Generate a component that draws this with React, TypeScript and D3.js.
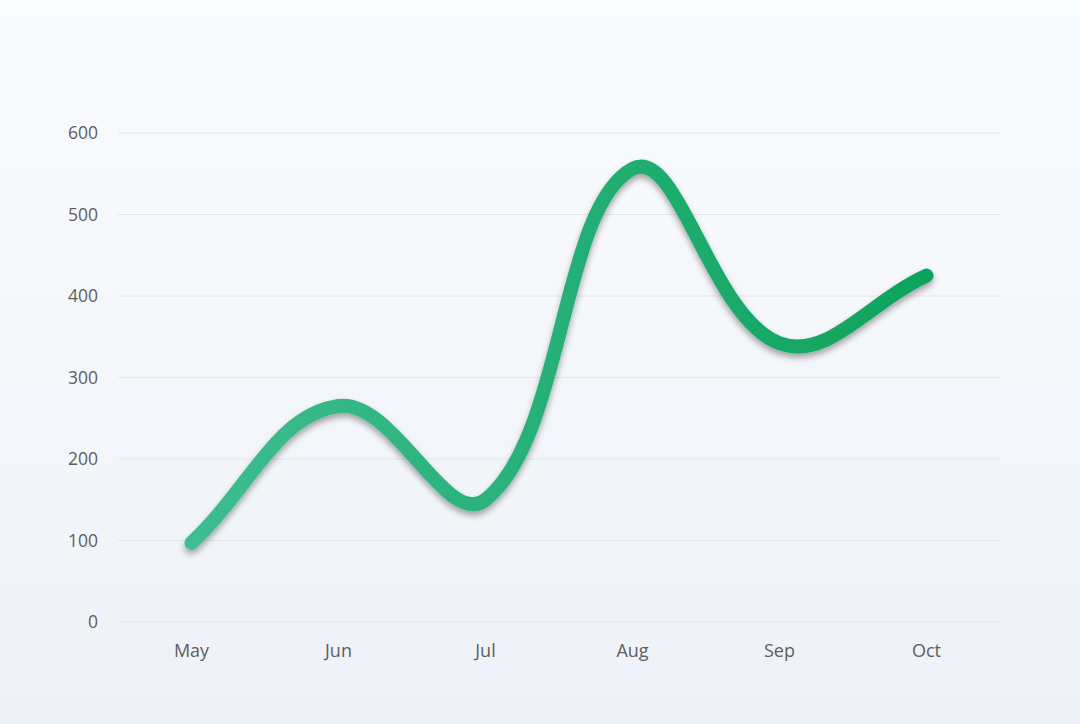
import React from 'react';
import * as d3 from 'd3';

const months = ['May', 'Jun', 'Jul', 'Aug', 'Sep', 'Oct'];
const values = [97, 265, 150, 556, 342, 425];
const yTicks = [0, 100, 200, 300, 400, 500, 600];

const W = 1080;
const H = 724;
const margin = { top: 133, right: 80, bottom: 102, left: 118 };
const SMOOTH = 0.4;

// distance-weighted bezier smoothing (like chart libs' "smooth" lines)
function smoothPath(pts: [number, number][], s: number) {
  const p = d3.path();
  const n = pts.length;
  const cpIn: [number, number][] = [];
  const cpOut: [number, number][] = [];
  for (let i = 0; i < n; i++) {
    const cur = pts[i];
    const prev = pts[Math.max(i - 1, 0)];
    const next = pts[Math.min(i + 1, n - 1)];
    const vx = next[0] - prev[0];
    const vy = next[1] - prev[1];
    const l0 = Math.hypot(cur[0] - prev[0], cur[1] - prev[1]);
    const l1 = Math.hypot(next[0] - cur[0], next[1] - cur[1]);
    const tot = l0 + l1 || 1;
    cpIn.push([cur[0] - vx * s * l0 / tot, cur[1] - vy * s * l0 / tot]);
    cpOut.push([cur[0] + vx * s * l1 / tot, cur[1] + vy * s * l1 / tot]);
  }
  p.moveTo(pts[0][0], pts[0][1]);
  for (let i = 0; i < n - 1; i++) {
    p.bezierCurveTo(cpOut[i][0], cpOut[i][1], cpIn[i + 1][0], cpIn[i + 1][1], pts[i + 1][0], pts[i + 1][1]);
  }
  return p.toString();
}

export default function App() {
  const x = d3.scalePoint<string>()
    .domain(months)
    .range([margin.left, W - margin.right])
    .padding(0.5);
  const y = d3.scaleLinear()
    .domain([0, 600])
    .range([H - margin.bottom, margin.top]);

  const pts = values.map((v, i) => [x(months[i]) as number, y(v)] as [number, number]);

  const font = '"Open Sans", "Noto Sans", sans-serif';

  return (
    <svg width={W} height={H} style={{ display: 'block', position: 'absolute', left: 0, top: 0 }}>
      <defs>
        <linearGradient id="bg" x1="0" y1="0" x2="0" y2="1">
          <stop offset="0" stopColor="#fafbfd" />
          <stop offset="1" stopColor="#eef2f8" />
        </linearGradient>
        <linearGradient id="lineGrad" gradientUnits="userSpaceOnUse"
          x1={x('May')} y1="0" x2={x('Oct')} y2="0">
          <stop offset="0" stopColor="#3dbd91" />
          <stop offset="1" stopColor="#0ea35b" />
        </linearGradient>
        <filter id="shadow" x="-10%" y="-10%" width="120%" height="130%">
          <feDropShadow dx="0" dy="4" stdDeviation="3" floodColor="#000" floodOpacity="0.35" />
        </filter>
      </defs>
      <rect width={W} height={H} fill="url(#bg)" />

      {yTicks.map(t => (
        <g key={t}>
          <line x1={margin.left} x2={W - margin.right} y1={y(t)} y2={y(t)}
            stroke="#e3e6ec" strokeWidth={1} />
          <text x={margin.left - 20} y={y(t)} dy="0.35em" textAnchor="end"
            fontFamily={font} fontSize={17.5} fill="#5e5e5e">{t}</text>
        </g>
      ))}

      {months.map(m => (
        <text key={m} x={x(m)} y={H - margin.bottom + 35} textAnchor="middle"
          fontFamily={font} fontSize={18} fill="#5e5e5e">{m}</text>
      ))}

      <path d={smoothPath(pts, SMOOTH)} fill="none" stroke="url(#lineGrad)"
        strokeWidth={14} strokeLinecap="round" strokeLinejoin="round" filter="url(#shadow)" />
    </svg>
  );
}
